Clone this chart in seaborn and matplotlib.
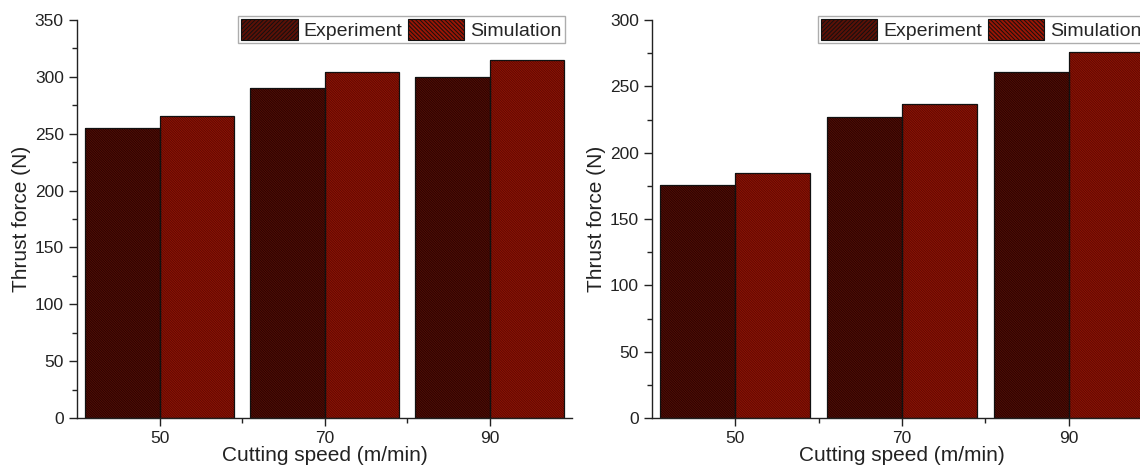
import matplotlib
matplotlib.use("Agg")
import matplotlib.pyplot as plt
import seaborn as sns
import pandas as pd
from matplotlib.patches import Patch, Rectangle
from matplotlib.ticker import MultipleLocator, FixedLocator

speeds = ["50", "70", "90"]
series_names = ["Experiment", "Simulation"]
left_experiment = [255, 290, 300]
left_simulation = [266, 304, 315]
right_experiment = [176, 227, 261]
right_simulation = [185, 237, 276]

colors = {"Experiment": "#5c1006", "Simulation": "#9a1504"}
hatch_colors = {"Experiment": "#2a0301", "Simulation": "#5e0902"}

sns.set_theme(style="white")
plt.rcParams["font.family"] = ["Liberation Sans", "DejaVu Sans"]
plt.rcParams["hatch.linewidth"] = 0.7

fig = plt.figure(figsize=(11.4, 4.69), dpi=100)
ax1 = fig.add_axes([77 / 1140, 51 / 469, 495 / 1140, 398 / 469])
ax2 = fig.add_axes([652 / 1140, 51 / 469, 500 / 1140, 398 / 469])


def make_df(exp, sim):
    return pd.DataFrame({
        "speed": speeds * 2,
        "series": [series_names[0]] * 3 + [series_names[1]] * 3,
        "force": list(exp) + list(sim),
    })


def draw(ax, exp, sim, ymax, step):
    df = make_df(exp, sim)
    sns.barplot(data=df, x="speed", y="force", hue="series", order=speeds,
                hue_order=series_names, palette=colors, width=0.9, gap=0,
                linewidth=0, saturation=1, ax=ax, legend=False)
    for cont, name in zip(ax.containers, series_names):
        for p in cont.patches:
            p.set_hatch("\\" * 14)
            p.set_edgecolor(hatch_colors[name])
            p.set_linewidth(0)
            outline = Rectangle(p.get_xy(), p.get_width(), p.get_height(),
                                fill=False, edgecolor="#111111",
                                linewidth=0.9, zorder=p.get_zorder() + 0.1)
            ax.add_patch(outline)
    ax.set_xlim(-0.5, 2.5)
    ax.set_ylim(0, ymax)
    ax.yaxis.set_major_locator(MultipleLocator(step))
    ax.yaxis.set_minor_locator(MultipleLocator(step / 2))
    ax.xaxis.set_minor_locator(FixedLocator([0.5, 1.5]))
    for s in ["top", "right"]:
        ax.spines[s].set_visible(False)
    for s in ["left", "bottom"]:
        ax.spines[s].set_color("#222222")
        ax.spines[s].set_linewidth(1.0)
        ax.spines[s].set_zorder(5)
    ax.tick_params(axis="both", which="major", direction="out", length=6,
                   width=1.0, color="#222222", labelsize=12.5,
                   labelcolor="#222222", left=True, bottom=True)
    ax.tick_params(axis="both", which="minor", direction="out", length=3.5,
                   width=1.0, color="#222222", left=True, bottom=True)
    ax.set_xlabel("Cutting speed (m/min)", fontsize=15, color="#222222",
                  labelpad=0)
    ax.set_ylabel("Thrust force (N)", fontsize=15, color="#222222",
                  labelpad=3)
    handles = [
        Patch(facecolor=colors["Experiment"], edgecolor="#111111",
              hatch="/" * 8, linewidth=0.8),
        Patch(facecolor=colors["Simulation"], edgecolor="#111111",
              hatch="\\" * 8, linewidth=0.8),
    ]
    leg = ax.legend(handles=handles, labels=series_names, ncol=2,
                    loc="upper right", bbox_to_anchor=(0.985, 1.01),
                    fontsize=14, frameon=True, fancybox=False,
                    edgecolor="#999999", handlelength=2.9, handleheight=1.3,
                    handletextpad=0.3, columnspacing=0.3,
                    borderpad=0.15, borderaxespad=0)
    leg.get_frame().set_linewidth(1.0)


draw(ax1, left_experiment, left_simulation, 350, 50)
draw(ax2, right_experiment, right_simulation, 300, 50)

fig.savefig("out.png", dpi=100)
